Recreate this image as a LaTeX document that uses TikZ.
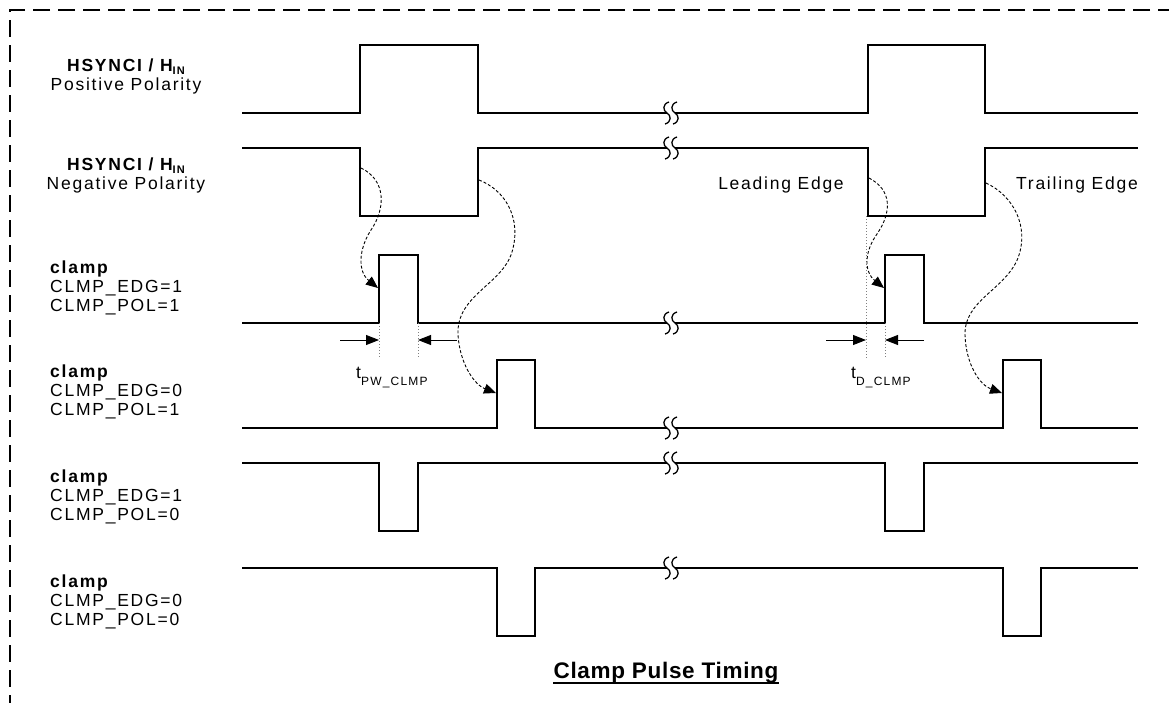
\documentclass[tikz,border=0pt]{standalone}
\usepackage{fontspec}
\setmainfont{Liberation Sans}[LetterSpace=10]
\newfontfamily\titlefont{Liberation Sans}[LetterSpace=3]
\usetikzlibrary{arrows.meta}
\newcommand{\lowsub}[3]{\raisebox{-#1pt}[0pt][0pt]{\fontsize{#2}{#2}\selectfont #3}}
\begin{document}
\begin{tikzpicture}[x=1pt,y=-1pt,
  sig/.style={line width=1.8pt, line join=miter},
  brkline/.style={line width=1.3pt},
  guide/.style={gray, dotted, line width=1pt},
  meas/.style={line width=0.9pt, -{Triangle[length=13pt,width=10pt]}},
  flow/.style={line width=0.9pt, dash pattern=on 3pt off 2pt, -{Triangle[length=12pt,width=10pt]}},
  lbl/.style={inner sep=0pt, font=\fontsize{17.5}{21}\selectfont},
  brk/.pic={
    \draw[brkline] (0,-11) .. controls (-7,-9) and (-6,-2) .. (-2,0) .. controls (2,2) and (3,9) .. (-4,11);
    \draw[brkline] (8,-11) .. controls (1,-9) and (2,-2) .. (6,0) .. controls (10,2) and (11,9) .. (4,11);
  }]
\useasboundingbox (0,0) rectangle (1169,702);
% border
\draw[line width=1.5pt, dash pattern=on 17pt off 8pt] (1175,10) -- (10,10) -- (10,710);

% row 1 positive polarity
\draw[sig] (242,113) -- (360,113) -- (360,45) -- (478,45) -- (478,113) -- (667,113);
\draw[sig] (675,113) -- (868,113) -- (868,45) -- (985,45) -- (985,113) -- (1138,113);
% row 2 negative polarity
\draw[sig] (242,148) -- (360,148) -- (360,216) -- (478,216) -- (478,148) -- (667,148);
\draw[sig] (675,148) -- (868,148) -- (868,216) -- (985,216) -- (985,148) -- (1138,148);
% row 3
\draw[sig] (242,323) -- (379,323) -- (379,255) -- (418,255) -- (418,323) -- (667,323);
\draw[sig] (675,323) -- (885,323) -- (885,255) -- (924,255) -- (924,323) -- (1138,323);
% row 4
\draw[sig] (242,428) -- (497,428) -- (497,360) -- (535,360) -- (535,428) -- (667,428);
\draw[sig] (675,428) -- (1003,428) -- (1003,360) -- (1041,360) -- (1041,428) -- (1138,428);
% row 5
\draw[sig] (242,463) -- (379,463) -- (379,531) -- (418,531) -- (418,463) -- (667,463);
\draw[sig] (675,463) -- (885,463) -- (885,531) -- (924,531) -- (924,463) -- (1138,463);
% row 6
\draw[sig] (242,568) -- (497,568) -- (497,636) -- (535,636) -- (535,568) -- (667,568);
\draw[sig] (675,568) -- (1003,568) -- (1003,636) -- (1041,636) -- (1041,568) -- (1138,568);

% break symbols
\foreach \yy in {113,148,323,428,463,568} \pic at (669,\yy) {brk};

% labels
\node[lbl, anchor=base] (h1a) at (126,71) {\textbf{HSYNCI / H\lowsub{3}{11}{IN}}};
\node[lbl, anchor=base] (h1b) at (126,90) {Positive Polarity};
\node[lbl, anchor=base] (h2a) at (126,170) {\textbf{HSYNCI / H\lowsub{3}{11}{IN}}};
\node[lbl, anchor=base] (h2b) at (126,189) {Negative Polarity};

\node[lbl, anchor=base west] (c3a) at (50,273) {\textbf{clamp}};
\node[lbl, anchor=base west] (c3b) at (50,292) {CLMP\_EDG=1};
\node[lbl, anchor=base west] (c3c) at (50,311) {CLMP\_POL=1};
\node[lbl, anchor=base west] (c4a) at (50,377) {\textbf{clamp}};
\node[lbl, anchor=base west] (c4b) at (50,396) {CLMP\_EDG=0};
\node[lbl, anchor=base west] (c4c) at (50,415) {CLMP\_POL=1};
\node[lbl, anchor=base west] (c5a) at (50,482) {\textbf{clamp}};
\node[lbl, anchor=base west] (c5b) at (50,501) {CLMP\_EDG=1};
\node[lbl, anchor=base west] (c5c) at (50,520) {CLMP\_POL=0};
\node[lbl, anchor=base west] (c6a) at (50,587) {\textbf{clamp}};
\node[lbl, anchor=base west] (c6b) at (50,606) {CLMP\_EDG=0};
\node[lbl, anchor=base west] (c6c) at (50,625) {CLMP\_POL=0};

\node[lbl, anchor=base] (le) at (781,189) {Leading Edge};
\node[lbl, anchor=base] (te) at (1077,189) {Trailing Edge};

\node[lbl, anchor=base west] (tpw) at (356,378) {t\lowsub{7}{12}{PW\_CLMP}};
\node[lbl, anchor=base west] (td) at (851,378) {t\lowsub{7}{12}{D\_CLMP}};

% title
\node[inner sep=0pt, anchor=base, font=\titlefont\fontsize{22.5}{26}\selectfont\bfseries] (title) at (666,678) {Clamp Pulse Timing};
\draw[line width=2pt] (553,683) -- (779,683);

% guides
\draw[guide] (379,323) -- (379,358);
\draw[guide] (418,323) -- (418,358);
\draw[guide] (866,216) -- (866,358);
\draw[guide] (885,323) -- (885,358);

% measurement arrows
\coordinate (m1) at (340,340); \coordinate (m1e) at (379,340);
\coordinate (m2) at (457,340); \coordinate (m2e) at (418,340);
\coordinate (m3) at (826,340); \coordinate (m3e) at (866,340);
\coordinate (m4) at (924,340); \coordinate (m4e) at (885,340);
\draw[meas] (m1) -- (m1e);
\draw[meas] (m2) -- (m2e);
\draw[meas] (m3) -- (m3e);
\draw[meas] (m4) -- (m4e);

% flow curves
\draw[flow] (361,168) .. controls (386,180) and (386,208) .. (371,230) .. controls (358,250) and (358,272) .. (378,288);
\draw[flow] (479,180) .. controls (505,190) and (522,218) .. (512,252) .. controls (502,285) and (456,295) .. (458,335) .. controls (460,365) and (475,385) .. (496,393);
\draw[flow] (869,178) .. controls (892,190) and (892,212) .. (877,234) .. controls (864,252) and (864,272) .. (884,288);
\draw[flow] (986,183) .. controls (1012,195) and (1030,225) .. (1018,258) .. controls (1005,290) and (964,300) .. (965,335) .. controls (966,365) and (980,385) .. (1002,393);
\end{tikzpicture}
\end{document}
